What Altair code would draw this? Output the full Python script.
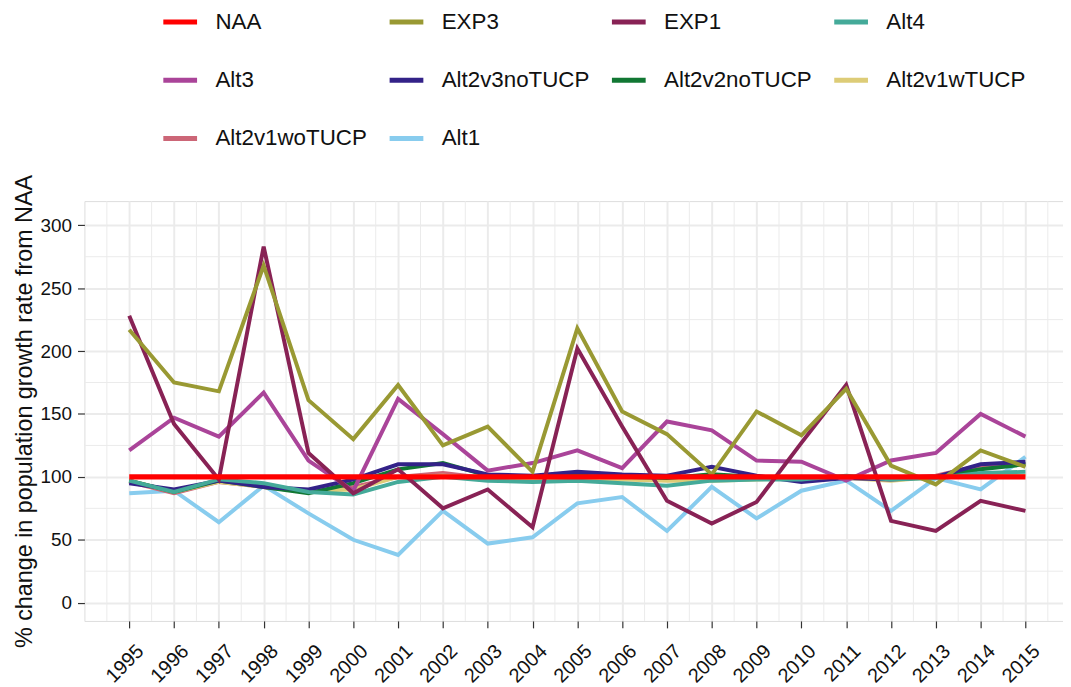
import altair as alt
import pandas as pd

years = list(range(1995, 2016))

series_names = ["NAA", "EXP3", "EXP1", "Alt4", "Alt3", "Alt2v3noTUCP",
                "Alt2v2noTUCP", "Alt2v1wTUCP", "Alt2v1woTUCP", "Alt1"]
series_colors = ["#FF0000", "#999933", "#882255", "#44AA99", "#AA4499", "#332288",
                 "#117733", "#DDCC77", "#CC6677", "#88CCEE"]
# drawing order (bottom to top)
draw_order = ["Alt1", "Alt2v1woTUCP", "Alt2v1wTUCP", "Alt2v2noTUCP", "Alt2v3noTUCP",
              "Alt3", "Alt4", "EXP1", "EXP3"]

naa = [100] * 21
exp3 = [217, 175, 168, 268, 161, 130, 173, 125, 140, 104, 218, 152, 134, 102, 152, 133, 170, 109, 94, 121, 108]
exp1 = [228, 142, 98, 283, 119, 87, 106, 75, 90, 60, 202, 140, 81, 63, 80, 127, 173, 65, 57, 81, 73]
alt4 = [97, 88, 98, 95, 88, 86, 96, 100, 97, 96, 97, 95, 93, 97, 98, 98, 101, 98, 99, 103, 104]
alt3 = [121, 147, 132, 167, 113, 89, 162, 134, 105, 111, 121, 107, 144, 137, 113, 112, 97, 113, 119, 150, 132]
alt2v3 = [95, 90, 97, 92, 90, 98, 110, 110, 102, 101, 104, 102, 101, 108, 101, 96, 99, 98, 100, 110, 112]
alt2v2 = [97, 88, 97, 92, 87, 95, 106, 111, 101, 100, 101, 100, 99, 102, 100, 100, 100, 99, 100, 106, 110]
alt2v1w = [97, 88, 96, 92, 89, 90, 100, 101, 99, 98, 98, 98, 97, 97, 98, 99, 99, 97, 100, 101, 101]
alt2v1wo = [96, 87, 96, 92, 88, 92, 100, 103, 99, 99, 99, 99, 98, 99, 99, 99, 99, 99, 101, 109, 110]
alt1 = [87, 89, 64, 93, 71, 50, 38, 73, 47, 52, 79, 84, 57, 92, 67, 89, 97, 73, 99, 90, 116]

values = {
    "NAA": naa, "EXP3": exp3, "EXP1": exp1, "Alt4": alt4, "Alt3": alt3,
    "Alt2v3noTUCP": alt2v3, "Alt2v2noTUCP": alt2v2, "Alt2v1wTUCP": alt2v1w,
    "Alt2v1woTUCP": alt2v1wo, "Alt1": alt1,
}

y_ticks = [0, 50, 100, 150, 200, 250, 300]
x_minor = [y + 0.5 for y in range(1994, 2016)]
y_minor = [25, 75, 125, 175, 225, 275]

rows = []
for name in draw_order:
    for yr, v in zip(years, values[name]):
        rows.append({"year": yr, "series": name, "value": v})
df_lines = pd.DataFrame(rows)
df_naa = pd.DataFrame({"year": years, "series": ["NAA"] * len(years), "value": naa})

FONT = "Liberation Sans"
TXT = "#111111"

x_scale = alt.Scale(domain=[1994, 2015.838], nice=False, zero=False)
y_scale = alt.Scale(domain=[-14.5, 319.2], nice=False, zero=False)
color_scale = alt.Scale(domain=series_names, range=series_colors)

x_axis = alt.Axis(values=years, format="d", labelAngle=315, labelAlign="right",
                  labelBaseline="top", labelFontSize=20, labelFont=FONT,
                  labelColor=TXT, labelPadding=13, labelOffset=4, tickSize=7,
                  tickColor="#333333", tickWidth=1.2, grid=True, gridColor="#EBEBEB",
                  gridWidth=2, domain=False, title=None, labelOverlap=False,
                  labelFlush=False)
y_axis = alt.Axis(values=y_ticks, labelFontSize=19, labelFont=FONT, labelColor=TXT,
                  labelPadding=6, tickSize=7, tickColor="#333333", tickWidth=1.2,
                  grid=True, gridColor="#EBEBEB", gridWidth=2, domain=False,
                  title="% change in population growth rate from NAA",
                  titleFont=FONT, titleFontSize=23.5, titleFontWeight="normal",
                  titleColor=TXT, titlePadding=4, labelFlush=False)

legend = alt.Legend(orient="none", legendX=77, legendY=-200, columns=4,
                    direction="horizontal",
                    symbolType="stroke", symbolSize=1156, symbolStrokeWidth=5,
                    labelFontSize=22.5, labelFont=FONT, labelColor=TXT,
                    labelOffset=16, columnPadding=12, rowPadding=27.7, labelLimit=400,
                    title=None)

minor_v = alt.Chart(pd.DataFrame({"xm": x_minor})).mark_rule(
    color="#EBEBEB", strokeWidth=1).encode(x=alt.X("xm:Q", scale=x_scale, axis=x_axis))
minor_h = alt.Chart(pd.DataFrame({"ym": y_minor})).mark_rule(
    color="#EBEBEB", strokeWidth=1).encode(y=alt.Y("ym:Q", scale=y_scale, axis=y_axis))

lines = alt.Chart(df_lines).mark_line(strokeWidth=4).encode(
    x=alt.X("year:Q", scale=x_scale, axis=x_axis),
    y=alt.Y("value:Q", scale=y_scale, axis=y_axis),
    color=alt.Color("series:N", scale=color_scale, legend=legend),
)
naa_line = alt.Chart(df_naa).mark_line(strokeWidth=5.5).encode(
    x=alt.X("year:Q", scale=x_scale, axis=x_axis),
    y=alt.Y("value:Q", scale=y_scale, axis=y_axis),
    color=alt.Color("series:N", scale=color_scale, legend=legend),
)

chart = alt.layer(minor_v, minor_h, lines, naa_line).properties(
    width=986, height=423,
    autosize=alt.AutoSizeParams(type="none"),
    padding={"left": 77, "top": 192, "right": 0, "bottom": 64},
).configure_view(stroke="#333333", strokeWidth=1.2).configure(font=FONT)

chart.save("out.html", embed_options={"renderer": "svg", "actions": False})
